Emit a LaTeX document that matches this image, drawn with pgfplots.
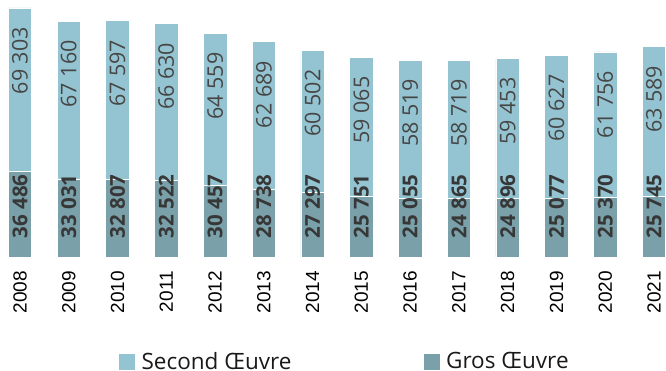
\documentclass[border=0pt]{standalone}
\usepackage{pgfplots}
\usepackage{pgfplotstable}
\usepackage{fontspec}
\setmainfont{Open Sans}
\newfontfamily\yearfont{Liberation Sans}
\pgfplotsset{compat=1.18}
\definecolor{second}{RGB}{148,196,209}
\definecolor{gros}{RGB}{122,160,170}
\definecolor{lab}{RGB}{70,70,70}
\definecolor{labb}{RGB}{55,55,55}

\pgfplotstableread{
idx year gros second
0 2008 36486 69303
1 2009 33031 67160
2 2010 32807 67597
3 2011 32522 66630
4 2012 30457 64559
5 2013 28738 62689
6 2014 27297 60502
7 2015 25751 59065
8 2016 25055 58519
9 2017 24865 58719
10 2018 24896 59453
11 2019 25077 60627
12 2020 25370 61756
13 2021 25745 63589
}\data

\pgfplotsset{base/.style={
  scale only axis, width=666pt, height=256.6pt, at={(0pt,0pt)}, anchor=south west,
  xmin=-0.41, xmax=13.246, ymin=0, ymax=109000,
  axis line style={draw=none}, ytick=\empty, major tick length=0pt, clip=false,
}}

\begin{document}
\begin{tikzpicture}[x=1pt,y=1pt]
\path[use as bounding box] (0,-114) rectangle (666,257);
\begin{axis}[base, ybar stacked, bar width=23.5pt,
  xtick={0,...,13}, xticklabels from table={\data}{year},
  xticklabel style={rotate=90, anchor=east, inner sep=0pt, xshift=-14pt,
    font=\yearfont\fontsize{19}{20}\selectfont, text=black},
  reverse legend, legend columns=2,
  legend style={at={(0.1787,-0.407)}, anchor=west, draw=none, fill=none,
    inner sep=0pt, outer sep=0pt, font=\fontsize{22.5}{24}\selectfont,
    nodes={inner sep=0pt, text=black!90},
    /tikz/every odd column/.append style={column sep=7pt},
    /tikz/every even column/.append style={column sep=132pt}},
  legend cell align=left,
]
\addplot[fill=gros, draw=white, line width=0.6pt,
  legend image code/.code={\fill[gros] (0pt,-7.5pt) rectangle (15pt,7.5pt);}]
  table[x=idx,y=gros]{\data};
\addplot[fill=second, draw=white, line width=0.6pt,
  legend image code/.code={\fill[second] (0pt,-7.5pt) rectangle (15pt,7.5pt);}]
  table[x=idx,y=second]{\data};
\legend{Gros Œuvre, Second Œuvre}
\end{axis}
\begin{axis}[base, hide axis]
\addplot[draw=none, mark=none, point meta=explicit,
  nodes near coords={\pgfmathprintnumber[1000 sep={\ }, assume math mode=true]{\pgfplotspointmeta}},
  every node near coord/.append style={rotate=90, anchor=west, xshift=18.5pt, inner sep=0pt,
    font=\bfseries\fontsize{20.5}{21}\selectfont, text=labb}]
  table[x=idx, y expr=0, meta=gros]{\data};
\addplot[draw=none, mark=none, point meta=explicit,
  nodes near coords={\pgfmathprintnumber[1000 sep={\ }, assume math mode=true]{\pgfplotspointmeta}},
  every node near coord/.append style={rotate=90, anchor=east, xshift=-19pt, inner sep=0pt,
    font=\fontsize{21.5}{22}\selectfont, text=lab}]
  table[x=idx, y expr=\thisrow{gros}+\thisrow{second}, meta=second]{\data};
\end{axis}
\end{tikzpicture}
\end{document}
